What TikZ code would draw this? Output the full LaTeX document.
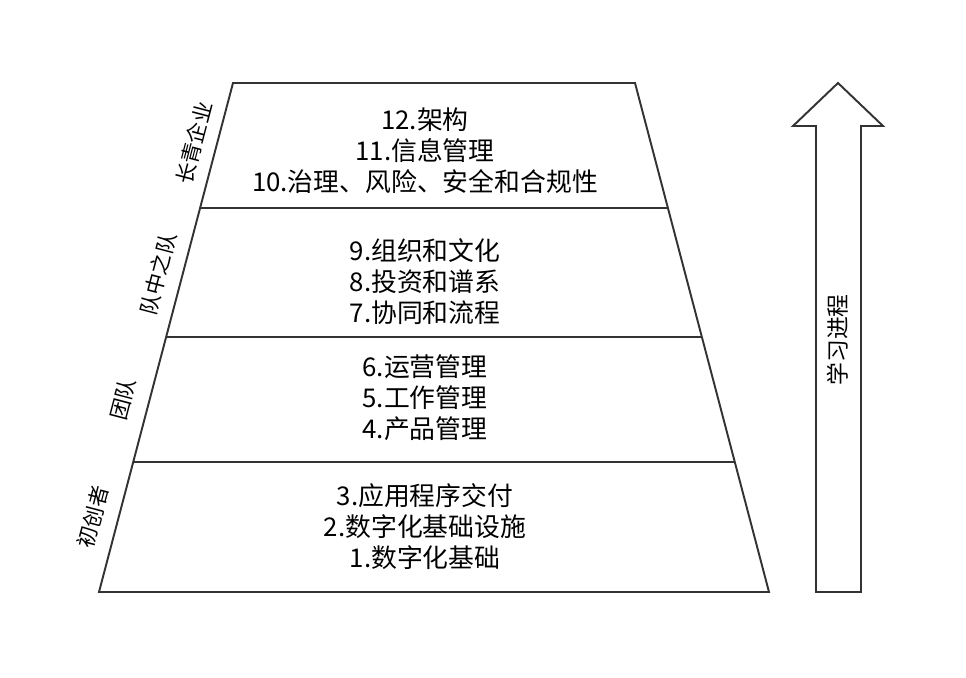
\documentclass[tikz,border=0pt]{standalone}
\usepackage{fontspec}
\setmainfont{Noto Sans CJK SC}
\usepackage{xcolor}
\usepackage{tikz}
\usetikzlibrary{positioning,calc}

\definecolor{linegray}{HTML}{333333}

\begin{document}
\begin{tikzpicture}[x=0.02cm, y=-0.02cm,
    edge/.style={draw=linegray, line width=1.1pt, line join=miter},
    level/.style={align=center, text=black, font=\fontsize{14.7}{17.6}\selectfont},
    side/.style={rotate=75.3, text=black, font=\fontsize{12}{14}\selectfont},
    progress/.style={rotate=90, text=black, font=\fontsize{13}{15}\selectfont}
]
\useasboundingbox (0,0) rectangle (966,678);

% Pyramide
\coordinate (tl) at (233,83);
\coordinate (tr) at (635,83);
\coordinate (bl) at (99,592);
\coordinate (br) at (769,592);
\draw[edge] (tl) -- (tr) -- (br) -- (bl) -- cycle;

% Separations
\draw[edge] ($(tl)!0.2456!(bl)$) -- ($(tr)!0.2456!(br)$);
\draw[edge] ($(tl)!0.4990!(bl)$) -- ($(tr)!0.4990!(br)$);
\draw[edge] ($(tl)!0.7446!(bl)$) -- ($(tr)!0.7446!(br)$);

% Niveaux
\node[level] (evergreen) at (425,151) {12.架构\\11.信息管理\\10.治理、风险、安全和合规性};
\node[level] (teamofteams) at (425,282) {9.组织和文化\\8.投资和谱系\\7.协同和流程};
\node[level] (team) at (425,398) {6.运营管理\\5.工作管理\\4.产品管理};
\node[level] (starter) at (425,527) {3.应用程序交付\\2.数字化基础设施\\1.数字化基础};

% Etiquettes laterales
\node[side] (lblevergreen) at (194,143) {长青企业};
\node[side] (lblteamofteams) at (158,274) {队中之队};
\node[side] (lblteam) at (123,399) {团队};
\node[side] (lblstarter) at (93,517) {初创者};

% Fleche
\draw[edge] (816,592) -- (816,126) -- (793,126) -- (838,83) -- (883,126)
    -- (861,126) -- (861,592) -- cycle;
\node[progress] (learning) at (838,340) {学习进程};
\end{tikzpicture}
\end{document}
